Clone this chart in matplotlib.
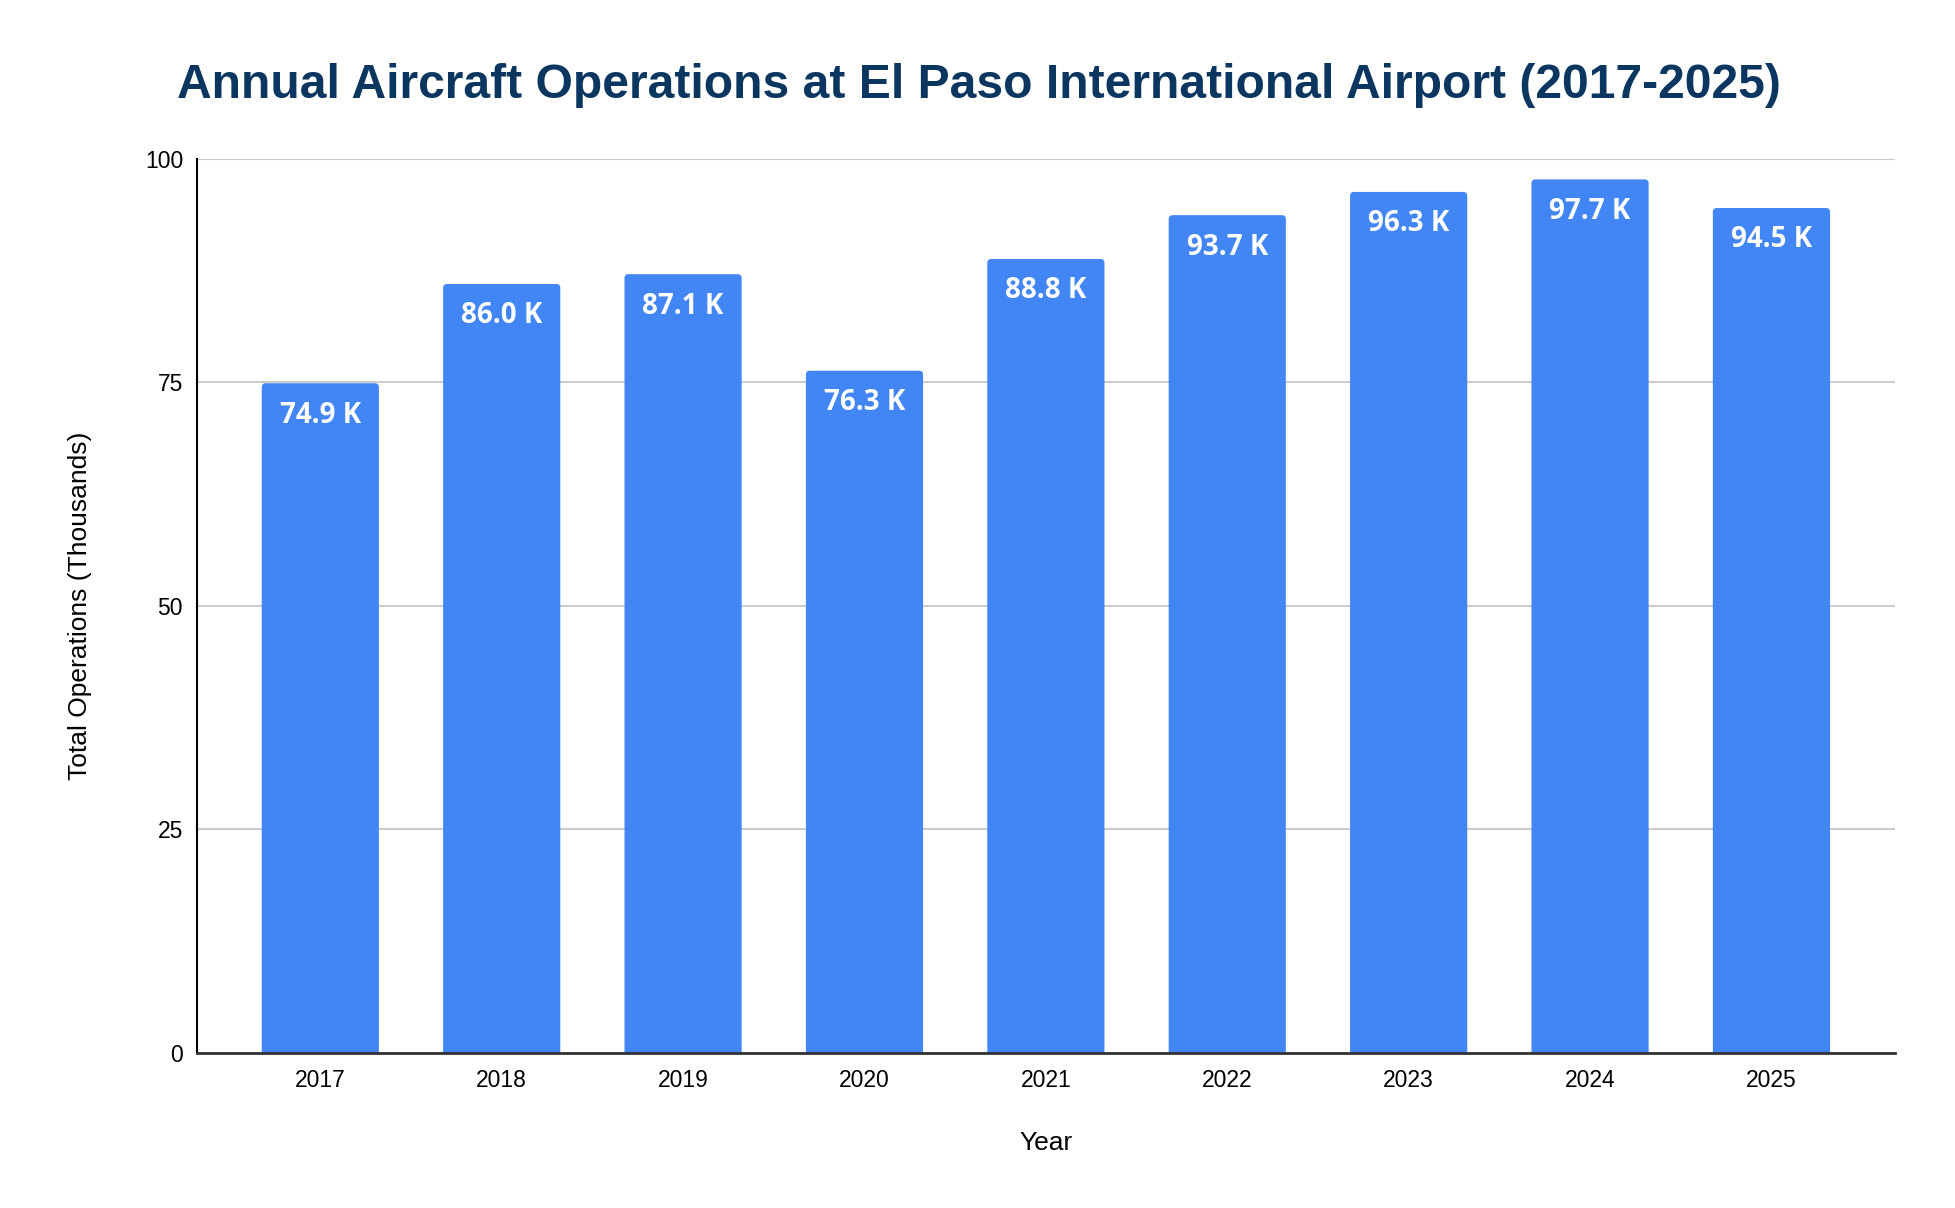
import matplotlib
matplotlib.use("Agg")
import matplotlib.pyplot as plt
from matplotlib.patches import FancyBboxPatch

years = ["2017", "2018", "2019", "2020", "2021", "2022", "2023", "2024", "2025"]
operations = [74.9, 86.0, 87.1, 76.3, 88.8, 93.7, 96.3, 97.7, 94.5]
labels = ["74.9 K", "86.0 K", "87.1 K", "76.3 K", "88.8 K", "93.7 K", "96.3 K", "97.7 K", "94.5 K"]
y_ticks = [0, 25, 50, 75, 100]

bar_color = "#4285F4"
title_color = "#0b365f"
bar_width = 0.646

fig = plt.figure(figsize=(19.56, 12.08), dpi=100)
ax_pos = [0.1007, 0.1285, 0.8680, 0.7400]
ax = fig.add_axes(ax_pos)

ax.set_xlim(-0.68, len(years) - 1 + 0.68)
ax.set_ylim(0, 100)

# rounded top corners, bottom pushed below the axis so it gets clipped
x_per_px = (ax.get_xlim()[1] - ax.get_xlim()[0]) / (ax_pos[2] * 1956)
y_per_px = 100 / (ax_pos[3] * 1208)
for i, v in enumerate(operations):
    patch = FancyBboxPatch((i - bar_width / 2, -3), bar_width, v + 3,
                           boxstyle="round,pad=0,rounding_size=%f" % (4 * x_per_px),
                           mutation_aspect=y_per_px / x_per_px,
                           facecolor=bar_color, edgecolor="none", zorder=3)
    ax.add_patch(patch)
    ax.annotate(labels[i], (i, v), xytext=(0, -23), textcoords="offset points",
                ha="center", va="center", color="white", fontsize=20,
                fontweight="bold", family="Open Sans", zorder=4)

ax.set_xticks(range(len(years)))
ax.set_xticklabels(years)
ax.set_yticks(y_ticks)
ax.tick_params(axis="both", length=0, labelsize=16.5, colors="black")
ax.tick_params(axis="x", pad=12)
ax.tick_params(axis="y", pad=10)
for lab in ax.get_xticklabels() + ax.get_yticklabels():
    lab.set_family("Liberation Sans")

ax.grid(axis="y", color="#cccccc", linewidth=1.5, zorder=0)
ax.set_axisbelow(True)
for s in ["top", "right"]:
    ax.spines[s].set_visible(False)
ax.spines["left"].set_color("black")
ax.spines["left"].set_linewidth(1.5)
ax.spines["bottom"].set_color("#333333")
ax.spines["bottom"].set_linewidth(2)
ax.spines["bottom"].set_zorder(5)

ax.set_xlabel("Year", fontsize=19, family="Liberation Sans", labelpad=28)
ax.set_ylabel("Total Operations (Thousands)", fontsize=19, family="Liberation Sans", labelpad=38)

fig.text(0.5005, 0.929, "Annual Aircraft Operations at El Paso International Airport (2017-2025)",
         ha="center", va="center", fontsize=34.6, fontweight="bold",
         family="Liberation Sans", color=title_color)

fig.savefig("out.png", dpi=100, facecolor="white")
